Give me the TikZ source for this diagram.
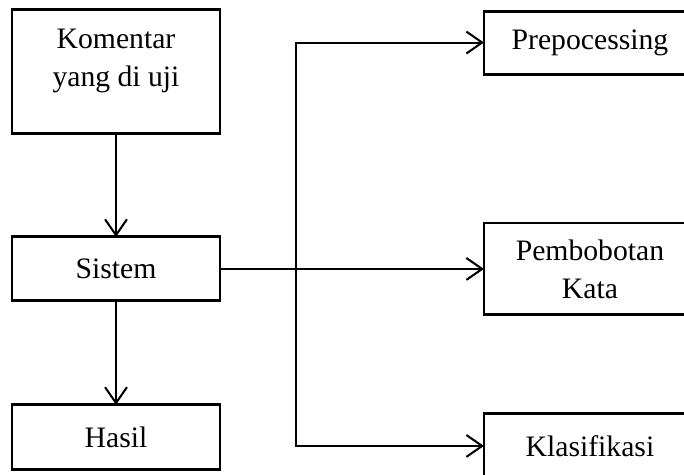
\documentclass[tikz,border=0pt]{standalone}
\usepackage{fontspec}
\setmainfont{Liberation Serif}
\usetikzlibrary{positioning}
\usetikzlibrary{arrows.meta}
\begin{document}
\begin{tikzpicture}[->,
        >={Straight Barb[length=6.5pt,width=9pt]},
        line width=0.85pt,
        node distance = 42.7pt,
        box/.style = {draw,line width=1.2pt,align=center,inner sep=0pt,outer sep=0pt,
            minimum width=85.5pt,font=\fontsize{12.2}{15.6}\selectfont},
        rbox/.style = {box,minimum width=87.1pt}]
        \useasboundingbox (-47.68pt,29.39pt) rectangle (233.45pt,-165.84pt);
        \node[box,minimum height=50.6pt,text depth=11pt](kom) at (0,0) {Komentar\\yang di uji};
        \node[box,minimum height=26.3pt,below=of kom](sistem) {Sistem};
        \node[box,minimum height=26.7pt,below=of sistem](hasil) {Hasil};
        \node[rbox,minimum height=37.8pt,right=108.5pt of sistem](pemb) {Pembobotan\\Kata};
        \node[rbox,minimum height=25.9pt,above=61.2pt of pemb](prep) {Prepocessing};
        \node[rbox,minimum height=26.3pt,below=40.7pt of pemb](klas) {Klasifikasi};
        \coordinate (jn) at ([xshift=31.2pt]sistem.east);
        \path[]
            (kom) edge (sistem)
            (sistem) edge (hasil)
            (sistem) edge (pemb);
        \draw[<->] (prep.west) -| (jn) |- (klas.west);
    \end{tikzpicture}
\end{document}
